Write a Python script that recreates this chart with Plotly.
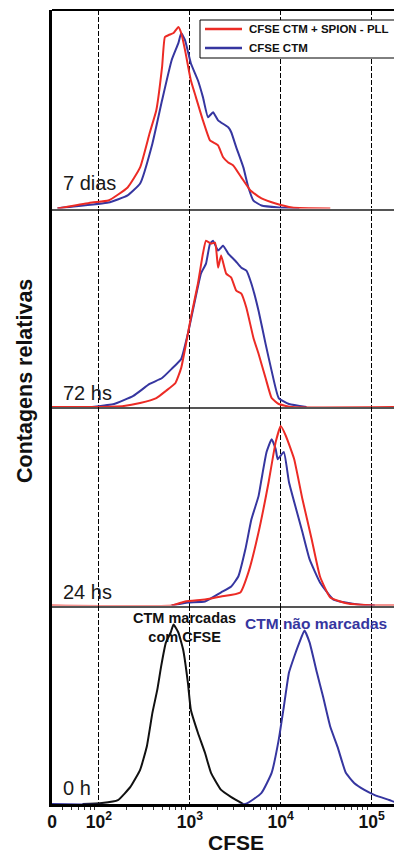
import plotly.graph_objects as go
from plotly.subplots import make_subplots

# ---- data (CFSE fluorescence vs relative counts, % of panel height) ----
x_7d_red = [35, 41, 84, 127, 207, 284, 361, 428, 495, 532, 587, 662, 748, 804, 886, 1026, 1166, 1394, 1668, 1896, 2047, 2326, 2644, 3005, 3687, 4642, 6148, 8799, 13335, 35090]
y_7d_red = [0, 0.5, 3.0, 4.0, 10.6, 20.7, 37.9, 49.5, 71.2, 86.4, 87.4, 88.4, 91.4, 88.4, 79.8, 64.6, 56.1, 44.4, 34.3, 32.8, 31.8, 25.8, 23.2, 21.7, 15.7, 9.1, 5.1, 2.5, 0.5, 0]
x_7d_blue = [35, 41, 127, 207, 284, 388, 495, 631, 748, 804, 886, 1026, 1227, 1394, 1585, 1801, 2047, 2644, 2855, 3243, 3881, 4410, 5012, 6148, 9500, 16020]
y_7d_blue = [0, 0.5, 3.0, 6.6, 12.6, 32.8, 54.5, 74.7, 83.3, 88.4, 84.8, 73.2, 64.6, 56.1, 46.0, 48.5, 44.4, 40.9, 38.4, 30.8, 20.7, 10.6, 4.0, 1.5, 0.5, 0]

x_72_red = [30, 84, 188, 284, 428, 545, 695, 804, 908, 1026, 1227, 1394, 1506, 1711, 1896, 2047, 2209, 2512, 2855, 3243, 3687, 4190, 5012, 5702, 6813, 7943, 9500, 13335, 220000]
y_72_red = [0, 0, 0.5, 2.0, 4.5, 8.1, 12.1, 19.7, 31.8, 44.9, 62.1, 77.3, 83.8, 82.3, 82.8, 70.2, 76.3, 67.2, 65.2, 58.6, 57.1, 50.0, 34.8, 26.8, 14.6, 4.5, 1.5, 0, 0]
x_72_blue = [84, 147, 239, 361, 495, 631, 804, 952, 1137, 1325, 1506, 1668, 1801, 2047, 2326, 2644, 3162, 3687, 4190, 4760, 5702, 6813, 7943, 9500, 12327, 19230]
y_72_blue = [0, 1.5, 5.6, 11.6, 14.6, 19.2, 24.2, 36.9, 53.5, 67.2, 72.2, 82.3, 83.8, 78.8, 81.3, 77.3, 73.7, 70.2, 68.7, 62.1, 48.5, 31.8, 18.2, 4.5, 1.5, 0]

x_24_red = [30, 631, 886, 1468, 2209, 3594, 4410, 5702, 7356, 8799, 10000, 11397, 14060, 17340, 21930, 27040, 35090, 54840, 108200, 220000]
y_24_red = [0, 0, 2.0, 3.0, 4.5, 6.6, 16.7, 36.9, 62.1, 82.3, 90.4, 85.4, 73.7, 53.5, 33.3, 14.6, 4.0, 1.0, 0, 0]
x_24_blue = [631, 952, 1468, 2209, 2855, 3414, 4085, 4760, 5702, 6148, 6985, 7943, 8799, 9262, 10818, 12327, 14792, 17340, 20800, 27040, 38000, 71120, 108200]
y_24_blue = [0, 1.5, 2.0, 6.6, 9.6, 14.6, 28.3, 43.4, 55.1, 63.6, 77.3, 83.8, 78.8, 73.7, 77.3, 62.1, 48.5, 36.9, 23.2, 11.6, 3.0, 0.5, 0]

x_0h_black = [66, 108, 162, 222, 284, 336, 388, 439, 483, 545, 616, 662, 748, 844, 952, 1026, 1227, 1468, 1711, 2209, 2855, 3881]
y_0h_black = [0, 0.5, 2.0, 8.6, 17.2, 28.8, 46.0, 57.6, 69.2, 81.3, 86.4, 90.4, 86.4, 77.8, 61.1, 47.5, 35.9, 25.8, 15.7, 7.1, 3.5, 0]
x_0h_blue = [30, 4085, 6148, 7943, 9500, 10818, 12327, 14060, 16020, 18238, 20800, 25000, 29250, 35090, 42170, 52000, 64140, 83180, 108200, 156100, 208000, 220000]
y_0h_blue = [0, 0, 5.6, 15.7, 32.3, 49.0, 66.2, 74.2, 81.3, 87.4, 81.3, 66.2, 54.0, 38.9, 28.8, 15.7, 10.6, 7.1, 4.5, 2.0, 0, 0]

panel_labels = ["7 dias", "72 hs", "24 hs", "0 h"]
label_y = [13.1, 7.1, 6.6, 8.1]
tick_vals = [30.5, 100, 1000, 10000, 100000]
tick_text = ["0", "10<sup>2</sup>", "10<sup>3</sup>", "10<sup>4</sup>", "10<sup>5</sup>"]
minor_vals = [m * 10 ** k for k in range(1, 6) for m in range(2, 10) if 30.5 < m * 10 ** k < 215000]
legend_names = ["CFSE CTM + SPION - PLL", "CFSE CTM"]

RED = "#ec2b25"
BLUE = "#3636a0"
BLACK = "#111111"
FONT = "Liberation Sans, Arial, sans-serif"

# page body has an 8px default margin: figure is 394x850 so the plot area
# lands at x 52..402, y 10..804 in the 402x858 window
W, H = 394, 850
ML, MT, MB = 44, 2, 54
PW = W - ML          # 350
PH = H - MT - MB     # 794


def px_x(px):
    return (px - 52) / PW


def px_y(py):
    return (804 - py) / PH


fig = make_subplots(rows=4, cols=1, shared_xaxes=True, vertical_spacing=0)

panels = [
    [(x_7d_blue, y_7d_blue, BLUE), (x_7d_red, y_7d_red, RED)],
    [(x_72_blue, y_72_blue, BLUE), (x_72_red, y_72_red, RED)],
    [(x_24_blue, y_24_blue, BLUE), (x_24_red, y_24_red, RED)],
    [(x_0h_black, y_0h_black, BLACK), (x_0h_blue, y_0h_blue, BLUE)],
]
for r, series in enumerate(panels, start=1):
    for xs, ys, col in series:
        tr = go.Scatter(x=xs, y=ys, mode="lines",
                        line=dict(color=col, width=2, shape="spline", smoothing=0.4),
                        showlegend=False, hoverinfo="skip")
        fig.add_trace(tr, row=r, col=1)

fig.update_xaxes(type="log", range=[1.484, 5.334], tickmode="array", tickvals=tick_vals,
                 ticktext=tick_text, showgrid=True, gridcolor="#000000", gridwidth=1.4,
                 griddash="5px,2px", showline=True, linecolor="#555555", linewidth=1.5,
                 ticks="", zeroline=False, showticklabels=False)
fig.update_xaxes(row=4, col=1, showticklabels=True, linecolor="#000000", linewidth=2.5,
                 tickfont=dict(family=FONT, size=17.5, color="#111", weight="bold"),
                 minor=dict(tickmode="array", tickvals=minor_vals, ticks="outside",
                            ticklen=3, tickcolor="#333", tickwidth=1, showgrid=False))
fig.update_yaxes(range=[0, 100], showgrid=False, zeroline=False, showticklabels=False,
                 ticks="", showline=True, linecolor="#000000", linewidth=2.5)

# top border
fig.add_shape(type="line", xref="paper", yref="paper", x0=0, x1=1, y0=1, y1=1,
              line=dict(color="#000", width=2))

# legend box (drawn by hand to match the reference geometry)
fig.add_shape(type="rect", xref="paper", yref="paper", x0=px_x(200), x1=px_x(401.5),
              y0=px_y(58), y1=px_y(20), line=dict(color="#000", width=1), fillcolor="white",
              layer="above")
for name, col, ly in zip(legend_names, [RED, BLUE], [29, 48]):
    fig.add_shape(type="line", xref="paper", yref="paper", x0=px_x(205), x1=px_x(242),
                  y0=px_y(ly), y1=px_y(ly), line=dict(color=col, width=2.5), layer="above")
    fig.add_annotation(text="<b>" + name + "</b>", xref="paper", yref="paper", x=px_x(247),
                       y=px_y(ly), xanchor="left", yanchor="middle", showarrow=False,
                       font=dict(family=FONT, size=11.5, color="#111"))

yrefs = ["y", "y2", "y3", "y4"]
for lab, ly, yr in zip(panel_labels, label_y, yrefs):
    fig.add_annotation(text=lab, xref="paper", x=px_x(61), xanchor="left", yref=yr, y=ly,
                       yanchor="middle", showarrow=False,
                       font=dict(family=FONT, size=20, color="#1a1a1a"))

fig.add_annotation(text="<b>CTM marcadas<br>com CFSE</b>", xref="paper", yref="paper",
                   x=px_x(184), y=px_y(627), xanchor="center", yanchor="middle",
                   showarrow=False, font=dict(family=FONT, size=14.5, color="#111"))
fig.add_annotation(text="<b>CTM não marcadas</b>", xref="paper", yref="paper",
                   x=px_x(316), y=px_y(623), xanchor="center", yanchor="middle",
                   showarrow=False, font=dict(family=FONT, size=15.5, color=BLUE))

fig.add_annotation(text="<b>CFSE</b>", xref="paper", yref="paper", x=px_x(236),
                   y=px_y(842), xanchor="center", yanchor="middle", showarrow=False,
                   font=dict(family=FONT, size=21, color="#111"))
fig.add_annotation(text="<b>Contagens relativas</b>", xref="paper", yref="paper",
                   x=px_x(25), y=px_y(381), xanchor="center", yanchor="middle",
                   textangle=-90, showarrow=False, font=dict(family=FONT, size=21.5, color="#111"))

fig.update_layout(
    width=W, height=H, margin=dict(l=ML, r=0, t=MT, b=MB),
    paper_bgcolor="white", plot_bgcolor="white",
    showlegend=False,
)

fig.write_html("out.html")
